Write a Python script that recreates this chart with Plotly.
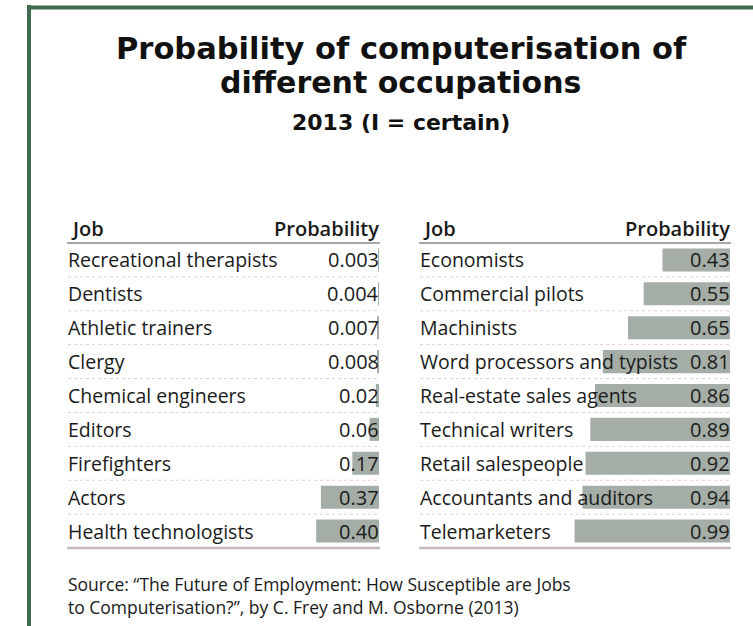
import plotly.graph_objects as go

W, H = 753, 626

left_jobs = ["Recreational therapists", "Dentists", "Athletic trainers", "Clergy",
             "Chemical engineers", "Editors", "Firefighters", "Actors",
             "Health technologists"]
left_values = [0.003, 0.004, 0.007, 0.008, 0.02, 0.06, 0.17, 0.37, 0.40]
left_labels = ["0.003", "0.004", "0.007", "0.008", "0.02", "0.06", "0.17", "0.37", "0.40"]

right_jobs = ["Economists", "Commercial pilots", "Machinists",
              "Word processors and typists", "Real-estate sales agents",
              "Technical writers", "Retail salespeople",
              "Accountants and auditors", "Telemarketers"]
right_values = [0.43, 0.55, 0.65, 0.81, 0.86, 0.89, 0.92, 0.94, 0.99]
right_labels = ["0.43", "0.55", "0.65", "0.81", "0.86", "0.89", "0.92", "0.94", "0.99"]

title_lines = ["Probability of computerisation of", "different occupations"]
subtitle = "2013 (I = certain)"
source = ("Source: \u201cThe Future of Employment: How Susceptible are Jobs<br>"
          "to Computerisation?\u201d, by C. Frey and M. Osborne (2013)")

FONT = "Open Sans"
TFONT = "DejaVu Sans"
BAR = "#a4aea6"
TXT = "#1a1a1a"
GREEN = "#40694f"


def px(x):
    return x / W


def py(y):
    return 1 - y / H


PX_PER_UNIT = 157.0
tables = [
    dict(jobs=left_jobs, values=left_values, labels=left_labels, x0=68, x1=379, xa="x", ya="y"),
    dict(jobs=right_jobs, values=right_values, labels=right_labels, x0=420, x1=730, xa="x2", ya="y2"),
]
TOP, BOT = 243, 548

fig = go.Figure()
annotations = []
shapes = []

for i, t in enumerate(tables):
    fig.add_trace(go.Bar(
        x=t["values"], y=t["jobs"], orientation="h",
        marker=dict(color=BAR, line=dict(width=0)),
        xaxis=t["xa"], yaxis=t["ya"], showlegend=False, hoverinfo="skip",
    ))
    xd = t["xa"] + " domain"
    # headers
    annotations.append(dict(text="Job", xref=xd, x=0, xanchor="left", yref="paper", y=py(228),
                            yanchor="middle", showarrow=False, xshift=1,
                            font=dict(family=FONT, size=20, color=TXT, weight=600)))
    annotations.append(dict(text="Probability", xref=xd, x=1, xanchor="right", yref="paper", y=py(228),
                            yanchor="middle", showarrow=False, xshift=2,
                            font=dict(family=FONT, size=20, color=TXT, weight=600)))
    for job, lab in zip(t["jobs"], t["labels"]):
        annotations.append(dict(text=job, xref=xd, x=0, xanchor="left", yref=t["ya"], y=job,
                                yanchor="middle", showarrow=False, xshift=-2,
                                font=dict(family=FONT, size=19.5, color=TXT)))
        annotations.append(dict(text=lab, xref=t["xa"], x=0, xanchor="right", yref=t["ya"], y=job,
                                yanchor="middle", showarrow=False, xshift=2,
                                font=dict(family=FONT, size=20, color=TXT)))
    # lines
    shapes.append(dict(type="line", xref=xd, x0=-0.003, x1=1.003, yref="paper", y0=py(TOP), y1=py(TOP),
                       line=dict(color="#a9a6a6", width=2)))
    shapes.append(dict(type="line", xref=xd, x0=-0.003, x1=1.003, yref="paper", y0=py(BOT), y1=py(BOT),
                       line=dict(color="#c6b9b9", width=2.5)))
    for k in range(len(t["jobs"]) - 1):
        shapes.append(dict(type="line", xref=xd, x0=0, x1=1, yref=t["ya"], y0=k + 0.5, y1=k + 0.5,
                           line=dict(color="#dccfcf", width=1, dash="dot")))

# border
shapes.append(dict(type="line", xref="paper", yref="paper", x0=px(29), x1=px(29), y0=py(5), y1=py(H + 5),
                   line=dict(color=GREEN, width=4)))
shapes.append(dict(type="line", xref="paper", yref="paper", x0=px(27), x1=px(W + 5), y0=py(7.5), y1=py(7.5),
                   line=dict(color=GREEN, width=4)))

# titles
annotations.append(dict(text=title_lines[0], xref="paper", x=px(401), xanchor="center", yref="paper",
                        y=py(48), yanchor="middle", showarrow=False,
                        font=dict(family=TFONT, size=30.5, color="#111111", weight=700)))
annotations.append(dict(text=title_lines[1], xref="paper", x=px(400), xanchor="center", yref="paper",
                        y=py(82), yanchor="middle", showarrow=False,
                        font=dict(family=TFONT, size=30, color="#111111", weight=700)))
annotations.append(dict(text=subtitle, xref="paper", x=px(401), xanchor="center", yref="paper",
                        y=py(123), yanchor="middle", showarrow=False,
                        font=dict(family=TFONT, size=22, color="#111111", weight=700)))
annotations.append(dict(text=source, xref="paper", x=px(66), xanchor="left", yref="paper",
                        y=py(570), yanchor="top", align="left", showarrow=False,
                        font=dict(family=FONT, size=17.5, color=TXT)))

rows = len(left_jobs)
fig.update_layout(
    width=W, height=H, margin=dict(l=0, r=0, t=0, b=0),
    paper_bgcolor="white", plot_bgcolor="white",
    bargap=0.32,
    xaxis=dict(domain=[px(68), px(379)], range=[(379 - 68) / PX_PER_UNIT, 0], visible=False, fixedrange=True),
    xaxis2=dict(domain=[px(420), px(730)], range=[(730 - 420) / PX_PER_UNIT, 0], visible=False, fixedrange=True),
    yaxis=dict(domain=[py(BOT), py(TOP)], range=[rows - 0.5, -0.5], visible=False, anchor="x"),
    yaxis2=dict(domain=[py(BOT), py(TOP)], range=[rows - 0.5, -0.5], visible=False, anchor="x2"),
    annotations=annotations, shapes=shapes,
)

fig.write_html("out.html")
